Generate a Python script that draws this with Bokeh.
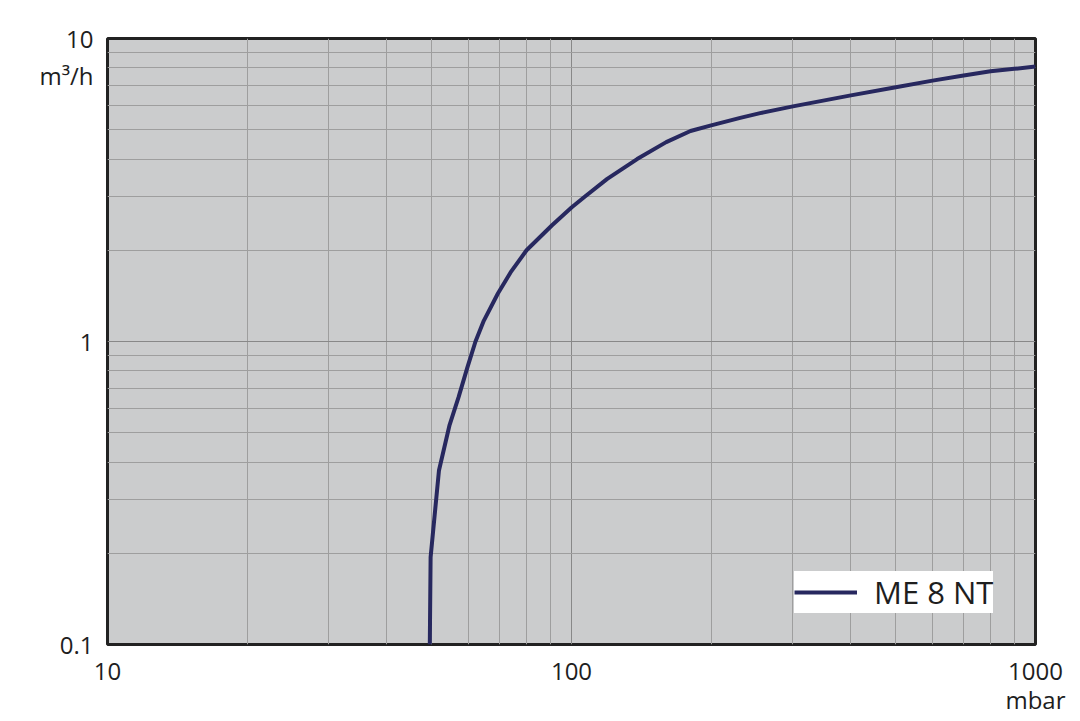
from bokeh.plotting import figure
from bokeh.models import FixedTicker, Legend, LegendItem, ColumnDataSource, Range1d, LogAxis
from bokeh.embed import file_html
from bokeh.resources import INLINE

# Data
pressure_mbar = [49.5, 49.7, 51.8, 54.6, 57.1, 59.7, 62.1, 64.7, 69.4, 73.9, 80.0, 90.8, 100,
                 106.6, 119.4, 138.5, 160.0, 180.5, 200, 231, 255, 300, 400, 500, 600, 700,
                 800, 900, 1000]
pumping_speed = [0.1, 0.194, 0.375, 0.53, 0.655, 0.825, 1.0, 1.17, 1.44, 1.69, 2.0, 2.42, 2.77,
                 3.0, 3.44, 4.0, 4.55, 4.95, 5.17, 5.47, 5.67, 5.97, 6.49, 6.90, 7.26, 7.55,
                 7.80, 7.94, 8.08]
series_name = "ME 8 NT"

x_ticks = [10, 100, 1000]
x_tick_labels = ["10", "100", "1000"]
y_ticks = [0.1, 1, 10]
y_tick_labels = ["0.1", "1", "10"]
x_unit = "mbar"
y_unit = "m³/h"
y_unit_pos = 7.55   # unit label sits just below the top tick
x_unit_pos = 1000   # unit label sits below the last tick

FONT = "Open Sans"
TXT = "#1e1e1e"

p = figure(width=1080, height=721, x_axis_type="log", y_axis_type="log",
           x_range=Range1d(10, 1000), y_range=Range1d(0.1, 10),
           output_backend="svg", toolbar_location=None,
           min_border_left=107, min_border_right=45, min_border_top=38, min_border_bottom=77)

p.background_fill_color = "#cbcccd"
p.border_fill_color = "white"
p.outline_line_color = "#222222"
p.outline_line_width = 3

x_minor = [v * d for d in (10, 100) for v in range(2, 10)]
y_minor = [v * d for d in (0.1, 1) for v in range(2, 10)]
p.xaxis.ticker = FixedTicker(ticks=x_ticks, minor_ticks=x_minor)
p.yaxis.ticker = FixedTicker(ticks=y_ticks + [y_unit_pos], minor_ticks=y_minor)
p.xaxis.major_label_overrides = dict(zip(x_ticks, x_tick_labels))
y_over = dict(zip(y_ticks, y_tick_labels))
y_over[y_unit_pos] = y_unit
p.yaxis.major_label_overrides = y_over

p.xgrid.ticker = FixedTicker(ticks=x_ticks, minor_ticks=x_minor)
p.ygrid.ticker = FixedTicker(ticks=y_ticks, minor_ticks=y_minor)

unit_axis = LogAxis(ticker=FixedTicker(ticks=[x_unit_pos]),
                    major_label_overrides={x_unit_pos: x_unit})
p.add_layout(unit_axis, "below")

for ax in p.xaxis + p.yaxis:
    ax.axis_line_color = None
    ax.major_tick_line_color = None
    ax.minor_tick_line_color = None
    ax.major_tick_out = 0
    ax.minor_tick_out = 0
    ax.major_label_text_font = FONT
    ax.major_label_text_font_size = "24px"
    ax.major_label_text_color = TXT
p.xaxis[0].major_label_standoff = 18
unit_axis.major_label_standoff = 0
p.yaxis.major_label_standoff = 14

for g in (p.xgrid, p.ygrid):
    g.grid_line_color = "#888888"
    g.grid_line_width = 1
    g.minor_grid_line_color = "#9e9e9e"
    g.minor_grid_line_width = 1

src = ColumnDataSource(dict(x=pressure_mbar, y=pumping_speed))
r = p.line("x", "y", source=src, line_color="#27285f", line_width=4, line_join="round")

legend = Legend(items=[LegendItem(label=series_name, renderers=[r])],
                location=(687, 31), orientation="vertical")
legend.background_fill_color = "white"
legend.background_fill_alpha = 1
legend.border_line_color = None
legend.label_text_font = FONT
legend.label_text_font_size = "31px"
legend.label_text_color = TXT
legend.glyph_width = 63
legend.glyph_height = 30
legend.label_standoff = 17
legend.padding = 5
legend.margin = 0
p.add_layout(legend, "center")

open("out.html", "w").write(file_html(p, INLINE))
